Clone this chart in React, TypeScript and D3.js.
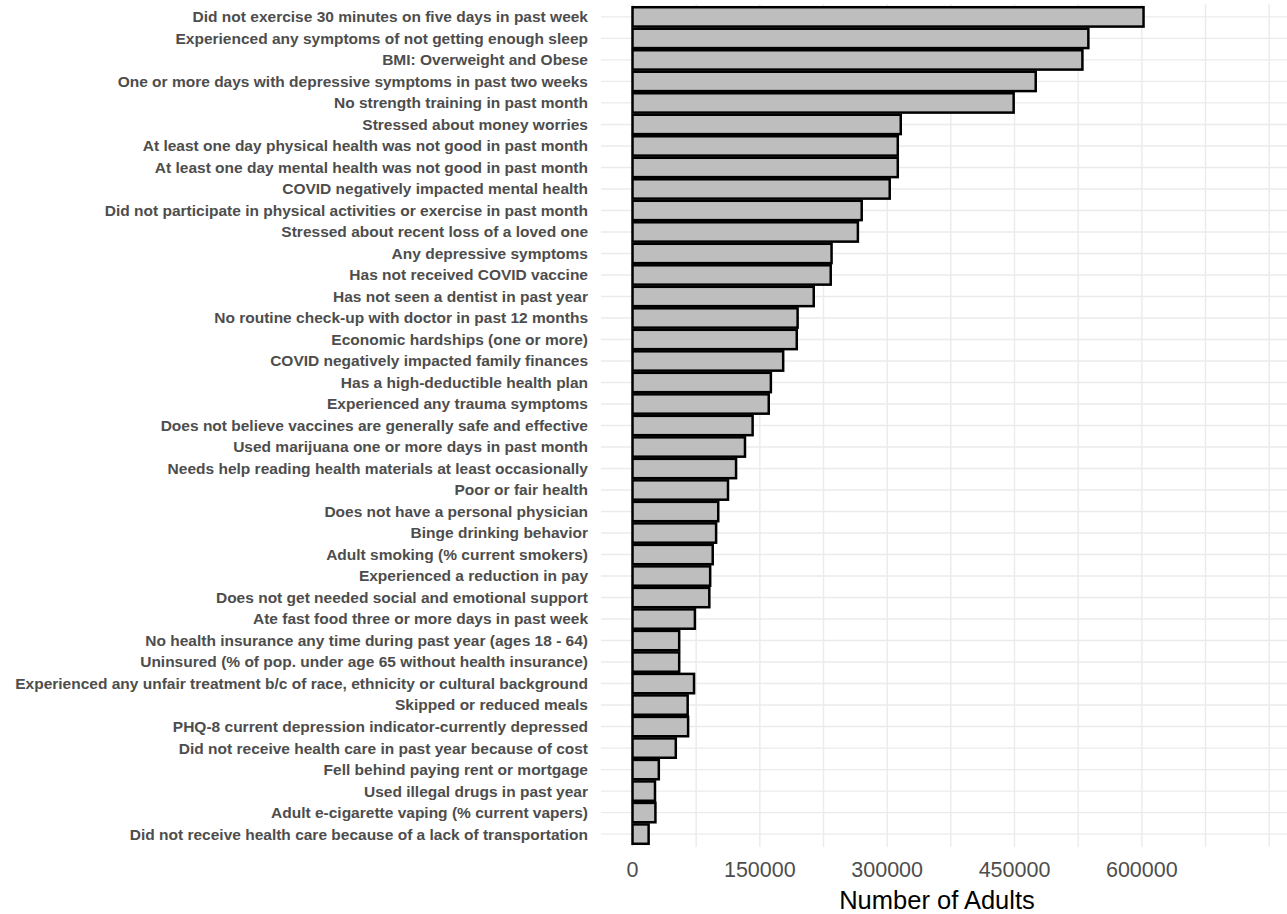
import React from 'react';
import * as d3 from 'd3';

// categories top to bottom
const categories = [
  'Did not exercise 30 minutes on five days in past week',
  'Experienced any symptoms of not getting enough sleep',
  'BMI: Overweight and Obese',
  'One or more days with depressive symptoms in past two weeks',
  'No strength training in past month',
  'Stressed about money worries',
  'At least one day physical health was not good in past month',
  'At least one day mental health was not good in past month',
  'COVID negatively impacted mental health',
  'Did not participate in physical activities or exercise in past month',
  'Stressed about recent loss of a loved one',
  'Any depressive symptoms',
  'Has not received COVID vaccine',
  'Has not seen a dentist in past year',
  'No routine check-up with doctor in past 12 months',
  'Economic hardships (one or more)',
  'COVID negatively impacted family finances',
  'Has a high-deductible health plan',
  'Experienced any trauma symptoms',
  'Does not believe vaccines are generally safe and effective',
  'Used marijuana one or more days in past month',
  'Needs help reading health materials at least occasionally',
  'Poor or fair health',
  'Does not have a personal physician',
  'Binge drinking behavior',
  'Adult smoking (% current smokers)',
  'Experienced a reduction in pay',
  'Does not get needed social and emotional support',
  'Ate fast food three or more days in past week',
  'No health insurance any time during past year (ages 18 - 64)',
  'Uninsured (% of pop. under age 65 without health insurance)',
  'Experienced any unfair treatment b/c of race, ethnicity or cultural background',
  'Skipped or reduced meals',
  'PHQ-8 current depression indicator-currently depressed',
  'Did not receive health care in past year because of cost',
  'Fell behind paying rent or mortgage',
  'Used illegal drugs in past year',
  'Adult e-cigarette vaping (% current vapers)',
  'Did not receive health care because of a lack of transportation',
];

const adults = [
  602000, 537000, 530000, 475000, 449000, 316000, 312500, 312500, 303000, 270000,
  265500, 234500, 233500, 213500, 194500, 193500, 177500, 163000, 160500, 141500,
  132500, 122000, 112500, 101000, 98500, 94500, 91500, 90500, 73500, 55000,
  55000, 72500, 65000, 65500, 51000, 31000, 26500, 27000, 19000,
];

const majorTicks = [0, 150000, 300000, 450000, 600000];
const gridTicks = [0, 75000, 150000, 225000, 300000, 375000, 450000, 525000, 600000, 675000, 750000];

const W = 1287;
const H = 914;

export default function App() {
  const panelLeft = 601;
  const panelRight = 1287;
  const panelTop = 4;
  const panelBottom = 847;

  const x = d3.scaleLinear().domain([0, 750000]).range([632.5, 632.5 + 750000 / 1178]);
  const y = d3
    .scaleBand<string>()
    .domain(categories)
    .range([panelTop, panelBottom])
    .paddingInner(0.1)
    .paddingOuter(0.15);

  const rows = categories.map((c, i) => ({ label: c, value: adults[i] }));
  const font = "'Liberation Sans', Arial, sans-serif";

  return (
    <svg width={W} height={H} style={{ position: 'absolute', left: 0, top: 0, background: '#fff' }}>
      {/* grid */}
      {gridTicks.map((t) => (
        <line key={'v' + t} x1={x(t)} x2={x(t)} y1={panelTop} y2={panelBottom} stroke="#ebebeb" strokeWidth={1.4} />
      ))}
      {categories.map((c) => (
        <line
          key={'h' + c}
          x1={panelLeft}
          x2={panelRight}
          y1={y(c)! + y.bandwidth() / 2}
          y2={y(c)! + y.bandwidth() / 2}
          stroke="#ebebeb"
          strokeWidth={1.4}
        />
      ))}

      {/* bars */}
      {rows.map((d) => (
        <rect
          key={d.label}
          x={x(0)}
          y={y(d.label)}
          width={x(d.value) - x(0)}
          height={y.bandwidth()}
          fill="#bebebe"
          stroke="#000"
          strokeWidth={2.5}
        />
      ))}

      {/* y labels */}
      {categories.map((c) => (
        <text
          key={'l' + c}
          x={588}
          y={y(c)! + y.bandwidth() / 2}
          dy="0.35em"
          textAnchor="end"
          fontFamily={font}
          fontWeight="bold"
          fontSize={15.5}
          fill="#4d4d4d"
        >
          {c}
        </text>
      ))}

      {/* x tick labels */}
      {majorTicks.map((t) => (
        <text key={'t' + t} x={x(t)} y={877} textAnchor="middle" fontFamily={font} fontSize={21.5} fill="#4d4d4d">
          {t}
        </text>
      ))}

      <text x={937} y={909} textAnchor="middle" fontFamily={font} fontSize={25.5} fill="#000">
        Number of Adults
      </text>
    </svg>
  );
}
